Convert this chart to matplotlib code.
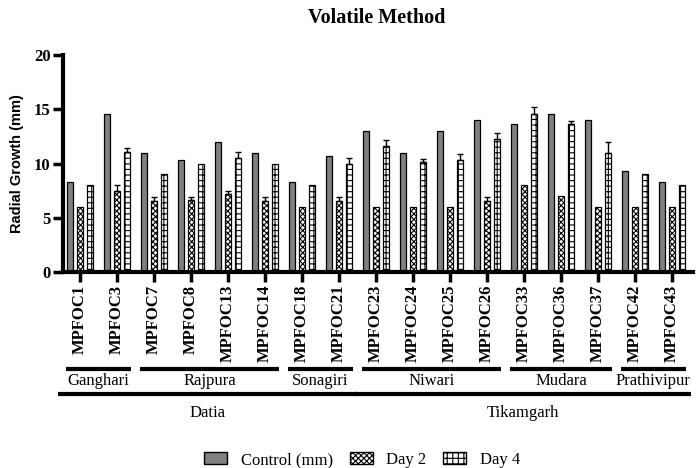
import matplotlib
matplotlib.use("Agg")
import matplotlib.pyplot as plt
import matplotlib.transforms as mtransforms
from matplotlib.patches import Patch
import numpy as np

##### radial growth data (mm) #####
isolates = ["MPFOC1", "MPFOC3", "MPFOC7", "MPFOC8", "MPFOC13", "MPFOC14",
            "MPFOC18", "MPFOC21", "MPFOC23", "MPFOC24", "MPFOC25", "MPFOC26",
            "MPFOC33", "MPFOC36", "MPFOC37", "MPFOC42", "MPFOC43"]
control = [8.3, 14.6, 11.0, 10.3, 12.0, 11.0, 8.3, 10.65, 12.95, 11.0, 12.95,
           14.0, 13.6, 14.6, 14.0, 9.3, 8.3]
day2 = [6.0, 7.5, 6.5, 6.65, 7.15, 6.5, 6.0, 6.5, 6.0, 6.0, 6.0, 6.5, 8.0,
        7.0, 6.0, 6.0, 6.0]
day2_err = [0, 0.5, 0.45, 0.3, 0.3, 0.45, 0, 0.45, 0, 0, 0, 0.45, 0, 0, 0, 0, 0]
day4 = [8.0, 11.1, 9.0, 10.0, 10.5, 10.0, 8.0, 10.0, 11.6, 10.15, 10.3, 12.3,
        14.6, 13.6, 11.0, 9.0, 8.0]
day4_err = [0, 0.3, 0, 0, 0.55, 0, 0, 0.5, 0.6, 0.28, 0.58, 0.55, 0.6, 0.3,
            1.0, 0, 0]

# blocks (first isolate index, last isolate index)
blocks = ["Ganghari", "Rajpura", "Sonagiri", "Niwari", "Mudara", "Prathivipur"]
block_idx = [(0, 1), (2, 5), (6, 7), (8, 11), (12, 14), (15, 16)]
districts = ["Datia", "Tikamgarh"]
district_idx = [(0, 7), (8, 16)]

serif = "Liberation Serif"
fig = plt.figure(figsize=(6.97, 4.68), dpi=100)
ax = fig.add_axes([63/697, 1-272/468, 630/697, 217/468])

x = np.arange(len(isolates))
off = 0.27
w = 0.17
plt.rcParams['hatch.linewidth'] = 0.8
ax.bar(x-off, control, w, color="#808080", edgecolor="black", linewidth=0.9)
ax.bar(x, day2, w, color="white", edgecolor="black", hatch="xxxxxx", linewidth=0.9)
ax.bar(x+off, day4, w, color="white", edgecolor="black", hatch="+++", linewidth=0.9)

d2e = np.array(day2_err)
d4e = np.array(day4_err)
m2 = d2e > 0
m4 = d4e > 0
ax.errorbar(x[m2], np.array(day2)[m2], yerr=[np.zeros(m2.sum()), d2e[m2]],
            fmt="none", ecolor="black", elinewidth=1, capsize=2, capthick=1)
ax.errorbar(x[m4]+off, np.array(day4)[m4], yerr=[np.zeros(m4.sum()), d4e[m4]],
            fmt="none", ecolor="black", elinewidth=1, capsize=2, capthick=1)

ax.set_xlim(-0.46, 16.57)
ax.set_ylim(0, 20)
ax.set_yticks([0, 5, 10, 15, 20])
ax.set_yticklabels(["0", "5", "10", "15", "20"], fontfamily=serif,
                   fontweight="bold", fontsize=12)
ax.set_xticks(x)
ax.set_xticklabels(isolates, rotation=90, fontfamily=serif, fontweight="bold",
                   fontsize=12)
ax.tick_params(axis="both", width=2.5, length=7, pad=2)
for s in ["top", "right"]:
    ax.spines[s].set_visible(False)
for s in ["left", "bottom"]:
    ax.spines[s].set_linewidth(3)

ax.set_ylabel("Radial Growth (mm)", fontfamily="Liberation Sans",
              fontweight="bold", fontsize=10.5, labelpad=7)
fig.text(377/697, 1-18/468, "Volatile Method", ha="center", va="center",
         fontfamily=serif, fontweight="bold", fontsize=14.5)

# block and district brackets below the tick labels
trans = mtransforms.blended_transform_factory(ax.transData, ax.transAxes)
for name, (a, b) in zip(blocks, block_idx):
    x0, x1 = a-0.38, b+0.38
    ax.plot([x0, x1], [-0.4456, -0.4456], color="black", lw=3,
            transform=trans, clip_on=False, solid_capstyle="butt")
    ax.text((x0+x1)/2, -0.502, name, transform=trans, ha="center",
            va="center", fontfamily=serif, fontsize=12)
for name, (a, b) in zip(districts, district_idx):
    x0, x1 = a-0.6, b+0.52
    ax.plot([x0, x1], [-0.561, -0.561], color="black", lw=3,
            transform=trans, clip_on=False, solid_capstyle="butt")
    ax.text((x0+x1)/2, -0.65, name, transform=trans, ha="center",
            va="center", fontfamily=serif, fontsize=12)

handles = [Patch(facecolor="#808080", edgecolor="black", label="Control (mm)"),
           Patch(facecolor="white", edgecolor="black", hatch="xxxxxx", label="Day 2"),
           Patch(facecolor="white", edgecolor="black", hatch="+++", label="Day 4")]
fig.legend(handles=handles, loc="center", bbox_to_anchor=(362/697, 1-460/468),
           ncol=3, frameon=False, prop={"family": serif, "size": 12},
           handlelength=1.4, handleheight=0.7, columnspacing=1.0,
           handletextpad=0.8, borderpad=0)

plt.savefig("out.png", dpi=100)
